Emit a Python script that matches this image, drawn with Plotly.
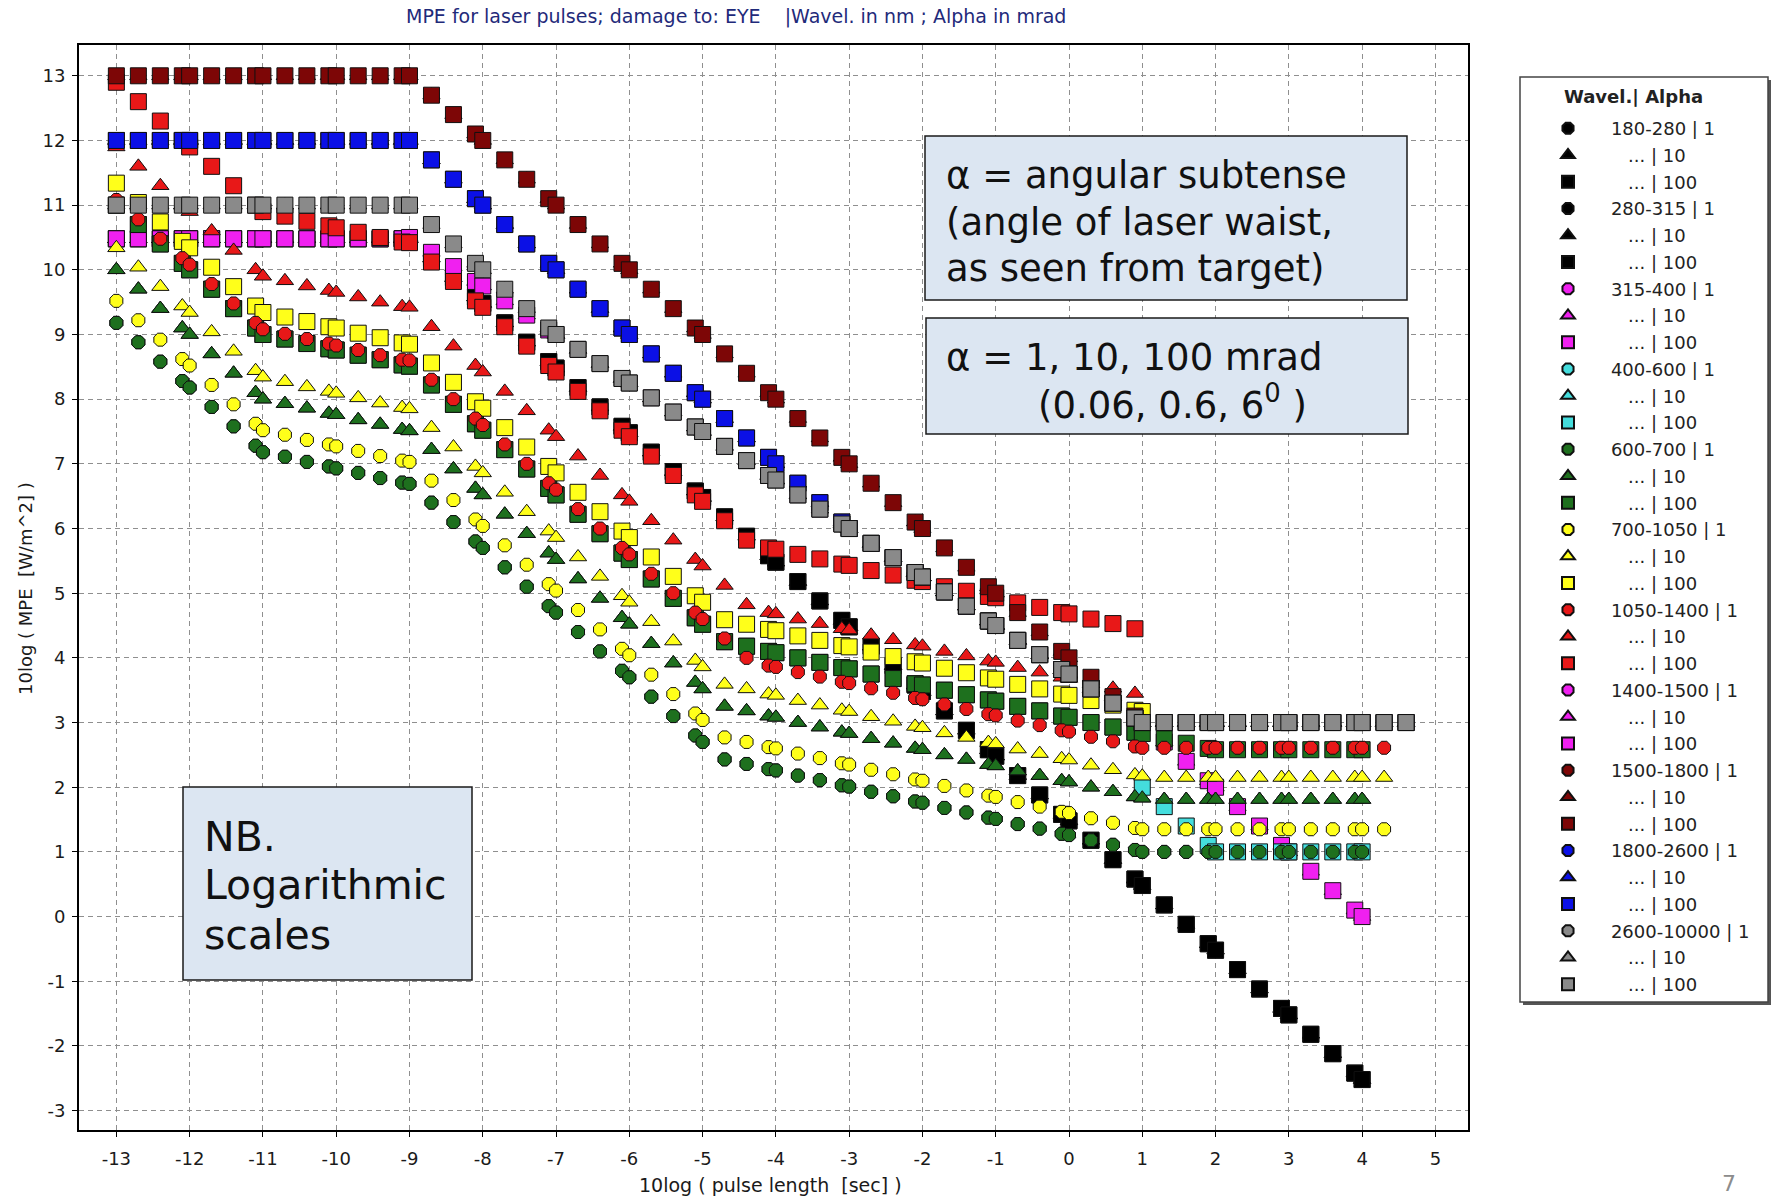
import plotly.graph_objects as go

# ---------------- data ----------------
# x = 10log(pulse length [s]); points at 1, 2, 4, 8 x 10^n seconds
X = [-13, -12.7, -12.4, -12.1,
     -12, -11.7, -11.4, -11.1,
     -11, -10.7, -10.4, -10.1,
     -10, -9.7, -9.4, -9.1,
     -9, -8.7, -8.4, -8.1,
     -8, -7.7, -7.4, -7.1,
     -7, -6.7, -6.4, -6.1,
     -6, -5.7, -5.4, -5.1,
     -5, -4.7, -4.4, -4.1,
     -4, -3.7, -3.4, -3.1,
     -3, -2.7, -2.4, -2.1,
     -2, -1.7, -1.4, -1.1,
     -1, -0.7, -0.4, -0.1,
     0, 0.3, 0.6, 0.9,
     1, 1.3, 1.6, 1.9,
     2, 2.3, 2.6, 2.9,
     3, 3.3, 3.6, 3.9,
     4, 4.3, 4.6]

X_TICKS = [-13, -12, -11, -10, -9, -8, -7, -6, -5, -4, -3, -2, -1, 0, 1, 2, 3, 4, 5]
X_TICK_LABELS = ["-13", "-12", "-11", "-10", "-9", "-8", "-7", "-6", "-5", "-4",
                 "-3", "-2", "-1", "0", "1", "2", "3", "4", "5"]
Y_TICKS = [-3, -2, -1, 0, 1, 2, 3, 4, 5, 6, 7, 8, 9, 10, 11, 12, 13]
Y_TICK_LABELS = ["-3", "-2", "-1", "0", "1", "2", "3", "4", "5", "6", "7", "8",
                 "9", "10", "11", "12", "13"]

# UV 180-280 / 280-315 (all alpha equal)
uv_black = [10.48, 10.48, 10.48, 10.48,
            10.48, 10.48, 10.48, 10.48,
            10.48, 10.48, 10.48, 10.48,
            10.48, 10.48, 10.48, 10.48,
            10.48, 10.18, 9.88, 9.58,
            9.48, 9.18, 8.88, 8.58,
            8.48, 8.18, 7.88, 7.58,
            7.48, 7.18, 6.88, 6.58,
            6.48, 6.18, 5.88, 5.58,
            5.48, 5.18, 4.88, 4.58,
            4.48, 4.18, 3.88, 3.58,
            3.48, 3.18, 2.88, 2.58,
            2.48, 2.18, 1.88, 1.58,
            1.48, 1.18, 0.88, 0.58,
            0.48, 0.18, -0.12, -0.42,
            -0.52, -0.82, -1.12, -1.42,
            -1.52, -1.82, -2.12, -2.42,
            -2.52]

# 315-400 (all alpha equal)
uva_magenta = [10.48, 10.48, 10.48, 10.48,
               10.48, 10.48, 10.48, 10.48,
               10.48, 10.48, 10.48, 10.48,
               10.48, 10.48, 10.48, 10.48,
               10.50, 10.27, 10.05, 9.82,
               9.75, 9.52, 9.30, 9.07,
               9.00, 8.77, 8.55, 8.32,
               8.25, 8.02, 7.80, 7.57,
               7.50, 7.27, 7.05, 6.82,
               6.75, 6.52, 6.30, 6.07,
               6.00, 5.77, 5.55, 5.32,
               5.25, 5.02, 4.80, 4.57,
               4.50, 4.27, 4.05, 3.82,
               3.75, 3.52, 3.30, 3.07,
               3.00, 2.70, 2.40, 2.10,
               2.00, 1.70, 1.40, 1.10,
               1.00, 0.70, 0.40, 0.10,
               0.00]

# 600-700 nm
red_vis_a1 = [9.18, 8.88, 8.58, 8.28,
              8.18, 7.88, 7.58, 7.28,
              7.18, 7.11, 7.03, 6.96,
              6.93, 6.86, 6.78, 6.71,
              6.69, 6.40, 6.10, 5.80,
              5.70, 5.40, 5.10, 4.80,
              4.70, 4.40, 4.10, 3.80,
              3.70, 3.40, 3.10, 2.80,
              2.70, 2.43, 2.36, 2.28,
              2.26, 2.18, 2.11, 2.03,
              2.01, 1.93, 1.86, 1.78,
              1.76, 1.68, 1.61, 1.53,
              1.51, 1.43, 1.36, 1.28,
              1.26, 1.18, 1.11, 1.03,
              1.00, 1.00, 1.00, 1.00,
              1.00, 1.00, 1.00, 1.00,
              1.00, 1.00, 1.00, 1.00,
              1.00]
red_vis_a10 = [10.00, 9.70, 9.40, 9.10,
               9.00, 8.70, 8.40, 8.10,
               8.00, 7.93, 7.86, 7.78,
               7.76, 7.68, 7.61, 7.53,
               7.51, 7.22, 6.92, 6.62,
               6.52, 6.22, 5.92, 5.62,
               5.52, 5.22, 4.92, 4.62,
               4.52, 4.22, 3.92, 3.62,
               3.52, 3.25, 3.18, 3.10,
               3.08, 3.00, 2.93, 2.85,
               2.83, 2.75, 2.68, 2.60,
               2.58, 2.50, 2.43, 2.35,
               2.33, 2.25, 2.18, 2.10,
               2.08, 2.00, 1.93, 1.85,
               1.83, 1.81, 1.81, 1.81,
               1.81, 1.81, 1.81, 1.81,
               1.81, 1.81, 1.81, 1.81,
               1.81]
red_vis_a100 = [11.00, 10.70, 10.40, 10.10,
                10.00, 9.70, 9.40, 9.10,
                9.00, 8.93, 8.86, 8.78,
                8.76, 8.68, 8.61, 8.53,
                8.51, 8.22, 7.92, 7.62,
                7.52, 7.22, 6.92, 6.62,
                6.52, 6.22, 5.92, 5.62,
                5.52, 5.22, 4.92, 4.62,
                4.52, 4.25, 4.18, 4.10,
                4.08, 4.00, 3.93, 3.85,
                3.83, 3.75, 3.68, 3.60,
                3.58, 3.50, 3.43, 3.35,
                3.33, 3.25, 3.18, 3.10,
                3.08, 3.00, 2.93, 2.85,
                2.83, 2.75, 2.68, 2.60,
                2.58, 2.58, 2.58, 2.58,
                2.58, 2.58, 2.58, 2.58,
                2.58]

# 400-600 nm (alpha 1 and 10 lie under the 600-700 markers)
blue_vis_a1 = red_vis_a1
blue_vis_a10 = red_vis_a10
blue_vis_a100 = [11.00, 10.70, 10.40, 10.10,
                 10.00, 9.70, 9.40, 9.10,
                 9.00, 8.93, 8.86, 8.78,
                 8.76, 8.68, 8.61, 8.53,
                 8.51, 8.22, 7.92, 7.62,
                 7.52, 7.22, 6.92, 6.62,
                 6.52, 6.22, 5.92, 5.62,
                 5.52, 5.22, 4.92, 4.62,
                 4.52, 4.25, 4.18, 4.10,
                 4.08, 4.00, 3.93, 3.85,
                 3.83, 3.75, 3.68, 3.60,
                 3.58, 3.50, 3.43, 3.35,
                 3.33, 3.25, 3.18, 3.10,
                 3.08, 3.00, 2.93, 2.85,
                 2.00, 1.70, 1.40, 1.10,
                 1.00, 1.00, 1.00, 1.00,
                 1.00, 1.00, 1.00, 1.00,
                 1.00]

# 700-1050 nm
nir_a1 = [9.52, 9.22, 8.92, 8.62,
          8.52, 8.22, 7.92, 7.62,
          7.52, 7.45, 7.37, 7.30,
          7.27, 7.20, 7.12, 7.05,
          7.03, 6.74, 6.44, 6.14,
          6.04, 5.74, 5.44, 5.14,
          5.04, 4.74, 4.44, 4.14,
          4.04, 3.74, 3.44, 3.14,
          3.04, 2.77, 2.70, 2.62,
          2.60, 2.52, 2.45, 2.37,
          2.35, 2.27, 2.20, 2.12,
          2.10, 2.02, 1.95, 1.87,
          1.85, 1.77, 1.70, 1.62,
          1.60, 1.52, 1.45, 1.37,
          1.35, 1.35, 1.35, 1.35,
          1.35, 1.35, 1.35, 1.35,
          1.35, 1.35, 1.35, 1.35,
          1.35, 1.35]
nir_a10 = [10.34, 10.04, 9.74, 9.44,
           9.34, 9.04, 8.74, 8.44,
           8.34, 8.27, 8.19, 8.12,
           8.09, 8.02, 7.94, 7.87,
           7.85, 7.56, 7.26, 6.96,
           6.86, 6.56, 6.26, 5.96,
           5.86, 5.56, 5.26, 4.96,
           4.86, 4.56, 4.26, 3.96,
           3.86, 3.59, 3.52, 3.44,
           3.42, 3.34, 3.27, 3.19,
           3.17, 3.09, 3.02, 2.94,
           2.92, 2.84, 2.77, 2.69,
           2.67, 2.59, 2.52, 2.44,
           2.42, 2.34, 2.27, 2.19,
           2.17, 2.15, 2.15, 2.15,
           2.15, 2.15, 2.15, 2.15,
           2.15, 2.15, 2.15, 2.15,
           2.15, 2.15]
nir_a100 = [11.34, 11.04, 10.74, 10.44,
            10.34, 10.04, 9.74, 9.44,
            9.34, 9.27, 9.20, 9.12,
            9.10, 9.02, 8.95, 8.87,
            8.85, 8.56, 8.26, 7.96,
            7.86, 7.56, 7.26, 6.96,
            6.86, 6.56, 6.26, 5.96,
            5.86, 5.56, 5.26, 4.96,
            4.86, 4.59, 4.52, 4.44,
            4.42, 4.34, 4.27, 4.19,
            4.17, 4.09, 4.02, 3.94,
            3.92, 3.84, 3.77, 3.69,
            3.67, 3.59, 3.52, 3.44,
            3.42, 3.34, 3.27, 3.19,
            3.17]

# 1050-1400 nm
ir_a1 = [11.08, 10.78, 10.48, 10.18,
         10.08, 9.78, 9.48, 9.18,
         9.08, 9.01, 8.93, 8.86,
         8.83, 8.76, 8.68, 8.61,
         8.60, 8.30, 8.00, 7.70,
         7.60, 7.30, 7.00, 6.70,
         6.60, 6.30, 6.00, 5.70,
         5.60, 5.30, 5.00, 4.70,
         4.60, 4.30, 4.00, 3.88,
         3.86, 3.78, 3.71, 3.63,
         3.61, 3.53, 3.46, 3.38,
         3.36, 3.28, 3.21, 3.13,
         3.11, 3.03, 2.96, 2.88,
         2.86, 2.78, 2.71, 2.63,
         2.61, 2.61, 2.61, 2.61,
         2.61, 2.61, 2.61, 2.61,
         2.61, 2.61, 2.61, 2.61,
         2.61, 2.61]
ir_a10 = [11.90, 11.60, 11.30, 11.00,
          10.90, 10.60, 10.30, 10.00,
          9.90, 9.83, 9.75, 9.68,
          9.65, 9.58, 9.50, 9.43,
          9.42, 9.12, 8.82, 8.52,
          8.42, 8.12, 7.82, 7.52,
          7.42, 7.12, 6.82, 6.52,
          6.42, 6.12, 5.82, 5.52,
          5.42, 5.12, 4.82, 4.70,
          4.68, 4.60, 4.53, 4.45,
          4.43, 4.35, 4.28, 4.20,
          4.18, 4.10, 4.03, 3.95,
          3.93, 3.85, 3.78, 3.70,
          3.68, 3.60, 3.53, 3.45]
ir_a100 = [12.90, 12.60, 12.30, 12.00,
           11.90, 11.60, 11.30, 11.00,
           10.90, 10.83, 10.75, 10.68,
           10.65, 10.58, 10.50, 10.43,
           10.42, 10.12, 9.82, 9.52,
           9.42, 9.12, 8.82, 8.52,
           8.42, 8.12, 7.82, 7.52,
           7.42, 7.12, 6.82, 6.52,
           6.42, 6.12, 5.82, 5.70,
           5.68, 5.60, 5.53, 5.45,
           5.43, 5.35, 5.28, 5.20,
           5.18, 5.10, 5.03, 4.95,
           4.93, 4.85, 4.78, 4.70,
           4.68, 4.60, 4.53, 4.45]

# 1800-2600 nm (1400-1500 lies underneath)
ir_blue = [12.0, 12.0, 12.0, 12.0,
           12.0, 12.0, 12.0, 12.0,
           12.0, 12.0, 12.0, 12.0,
           12.0, 12.0, 12.0, 12.0,
           12.00, 11.70, 11.40, 11.10,
           11.00, 10.70, 10.40, 10.10,
           10.00, 9.70, 9.40, 9.10,
           9.00, 8.70, 8.40, 8.10,
           8.00, 7.70, 7.40, 7.10,
           7.00, 6.70, 6.40, 6.10,
           6.00, 5.77, 5.55, 5.32,
           5.25, 5.02, 4.80, 4.57,
           4.50, 4.27, 4.05, 3.82,
           3.75, 3.52, 3.30, 3.07,
           3.00, 3.00, 3.00, 3.00,
           3.00, 3.00, 3.00, 3.00,
           3.00, 3.00, 3.00, 3.00,
           3.00, 3.00, 3.00]

# 1500-1800 nm
ir_darkred = [13.0, 13.0, 13.0, 13.0,
              13.0, 13.0, 13.0, 13.0,
              13.0, 13.0, 13.0, 13.0,
              13.0, 13.0, 13.0, 13.0,
              13.00, 12.70, 12.40, 12.10,
              12.00, 11.70, 11.40, 11.10,
              11.00, 10.70, 10.40, 10.10,
              10.00, 9.70, 9.40, 9.10,
              9.00, 8.70, 8.40, 8.10,
              8.00, 7.70, 7.40, 7.10,
              7.00, 6.70, 6.40, 6.10,
              6.00, 5.70, 5.40, 5.10,
              5.00, 4.70, 4.40, 4.10,
              4.00, 3.70, 3.40, 3.10,
              3.00, 3.00, 3.00, 3.00,
              3.00, 3.00, 3.00, 3.00,
              3.00, 3.00, 3.00, 3.00,
              3.00, 3.00, 3.00]

# 2600-10000 nm
ir_gray = [11.0, 11.0, 11.0, 11.0,
           11.0, 11.0, 11.0, 11.0,
           11.0, 11.0, 11.0, 11.0,
           11.0, 11.0, 11.0, 11.0,
           11.00, 10.70, 10.40, 10.10,
           10.00, 9.70, 9.40, 9.10,
           9.00, 8.77, 8.55, 8.32,
           8.25, 8.02, 7.80, 7.57,
           7.50, 7.27, 7.05, 6.82,
           6.75, 6.52, 6.30, 6.07,
           6.00, 5.77, 5.55, 5.32,
           5.25, 5.02, 4.80, 4.57,
           4.50, 4.27, 4.05, 3.82,
           3.75, 3.52, 3.30, 3.07,
           3.00, 3.00, 3.00, 3.00,
           3.00, 3.00, 3.00, 3.00,
           3.00, 3.00, 3.00, 3.00,
           3.00, 3.00, 3.00]

wavebands = ["180-280", "280-315", "315-400", "400-600", "600-700", "700-1050",
             "1050-1400", "1400-1500", "1500-1800", "1800-2600", "2600-10000"]
alphas = ["1", "10", "100"]
band_colors = ["#000000", "#000000", "#f020f0", "#44dddd", "#1e701e", "#ffff1a",
               "#e81818", "#f020f0", "#7d0606", "#0b10e6", "#8a8a8a"]
band_series = [
    [uv_black, uv_black, uv_black],
    [uv_black, uv_black, uv_black],
    [uva_magenta, uva_magenta, uva_magenta],
    [blue_vis_a1, blue_vis_a10, blue_vis_a100],
    [red_vis_a1, red_vis_a10, red_vis_a100],
    [nir_a1, nir_a10, nir_a100],
    [ir_a1, ir_a10, ir_a100],
    [ir_blue, ir_blue, ir_blue],
    [ir_darkred, ir_darkred, ir_darkred],
    [ir_blue, ir_blue, ir_blue],
    [ir_gray, ir_gray, ir_gray],
]

# ---------------- figure ----------------
W, H = 1775, 1196
L, R, T, B = 79, 307, 45, 66
PW, PH = W - L - R, H - T - B


def px(x):
    return (x - L) / PW


def py(y):
    return (H - B - y) / PH


symbols = ["octagon", "triangle-up", "square"]
sizes = [14, 15, 16]
NB = "\u00a0"
FONT = "DejaVu Sans"

fig = go.Figure()
for bi, band in enumerate(wavebands):
    for ai, alpha in enumerate(alphas):
        ys = band_series[bi][ai]
        if ai == 0:
            label = NB * 4 + f"{band} | {alpha}"
        else:
            label = NB * 7 + f"... | {alpha}"
        fig.add_trace(go.Scatter(
            x=X[:len(ys)], y=ys, mode="markers", name=label,
            legendgroup=f"{band}_{alpha}",
            marker=dict(symbol=symbols[ai], size=sizes[ai], color=band_colors[bi],
                        line=dict(color="#101010", width=1)),
        ))

axis_common = dict(showgrid=True, gridcolor="#8f8f8f", gridwidth=1, griddash="5px,4px",
                   zeroline=False, showline=True, linecolor="#000000", linewidth=2, mirror=True,
                   ticks="outside", ticklen=5, tickcolor="#000000",
                   tickfont=dict(family=FONT, size=18, color="#1a1a1a"))

fig.update_layout(
    width=W, height=H,
    margin=dict(l=L, r=R, t=T, b=B),
    paper_bgcolor="white", plot_bgcolor="white",
    xaxis=dict(range=[-13.51, 5.445], tickmode="array", tickvals=X_TICKS,
               ticktext=X_TICK_LABELS, ticklabelstandoff=6, **axis_common),
    yaxis=dict(range=[-3.30, 13.476], tickmode="array", tickvals=Y_TICKS,
               ticktext=Y_TICK_LABELS, ticklabelstandoff=3, **axis_common),
    showlegend=True,
    legend=dict(x=px(1548), y=py(110), xanchor="left", yanchor="top",
                bgcolor="rgba(0,0,0,0)", borderwidth=0, tracegroupgap=0.35,
                itemsizing="constant",
                font=dict(family=FONT, size=18, color="#222222"),
                itemclick=False),
)

shapes = []
# legend frame with shadow
shapes.append(dict(type="rect", xref="paper", yref="paper", x0=px(1523), x1=px(1771),
                   y0=py(80), y1=py(1005), fillcolor="#555555", line=dict(width=0), layer="above"))
shapes.append(dict(type="rect", xref="paper", yref="paper", x0=px(1520), x1=px(1768),
                   y0=py(77), y1=py(1002), fillcolor="white", line=dict(color="#444444", width=1.5),
                   layer="above"))
# text boxes
for (x0, x1, y0, y1) in [(925, 1407, 136, 300), (926, 1408, 318, 434), (183, 472, 787, 980)]:
    shapes.append(dict(type="rect", xref="paper", yref="paper", x0=px(x0), x1=px(x1),
                       y0=py(y0), y1=py(y1), fillcolor="#dce6f2",
                       line=dict(color="#1a1a1a", width=1.5), layer="above"))
fig.update_layout(shapes=shapes)

ann = []


def add_text(text, x, y, size, color="#111111", xanchor="left", angle=0):
    ann.append(dict(text=text, x=px(x), y=py(y), xref="paper", yref="paper", showarrow=False,
                    xanchor=xanchor, yanchor="middle", align="left", textangle=angle,
                    font=dict(family=FONT, size=size, color=color)))


add_text("MPE for laser pulses; damage to: EYE" + NB * 4 + "|Wavel. in nm ; Alpha in mrad",
         736, 17, 19, color="#1f2a7a", xanchor="center")
add_text("10log ( MPE" + NB * 2 + "[W/m^2] )", 25, 589, 18, color="#1a1a1a",
         xanchor="center", angle=-90)
add_text("10log ( pulse length" + NB * 2 + "[sec] )", 770, 1185, 19, color="#1a1a1a",
         xanchor="center")
add_text("7", 1729, 1183, 22, color="#8c8c8c", xanchor="center")
add_text("<b>Wavel.| Alpha</b>", 1633, 97, 18, color="#222222", xanchor="center")

box1_lines = ["α = angular subtense", "(angle of laser waist,", "as seen from target)"]
for i, t in enumerate(box1_lines):
    add_text(t, 944, [175.5, 222, 268.5][i], 37)
add_text("α = 1, 10, 100 mrad", 944, 357, 37)
add_text("(0.06, 0.6, 6<sup>0</sup> )", 1036, 403, 37)
box3_lines = ["NB.", "Logarithmic", "scales"]
for i, t in enumerate(box3_lines):
    add_text(t, 202, [836.5, 885, 935][i], 41)
fig.update_layout(annotations=ann)

fig.write_html("out.html")
